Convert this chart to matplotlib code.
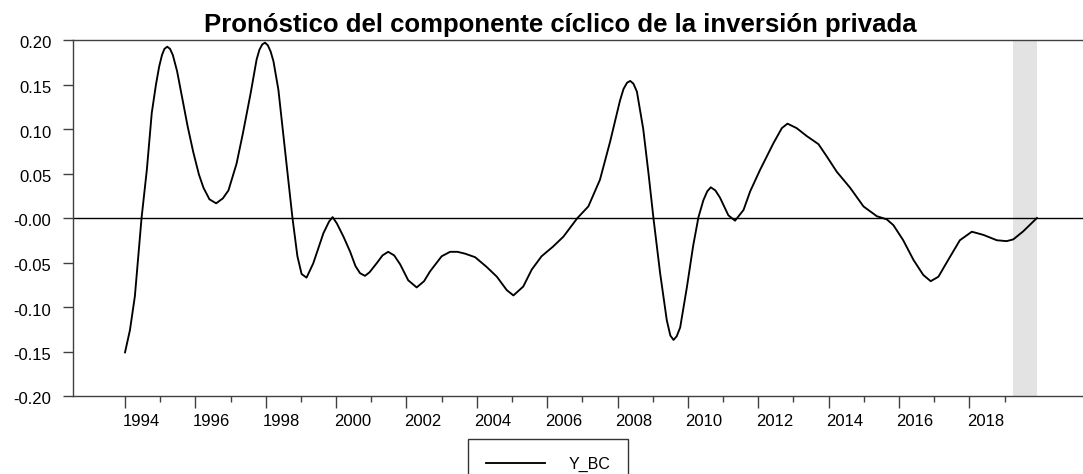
import matplotlib
matplotlib.use("Agg")
import matplotlib.pyplot as plt
import matplotlib.transforms as mtransforms

plt.rcParams['font.family'] = ['Liberation Sans', 'DejaVu Sans']

# Decimal-year positions of readings and the cyclical component values
dates = [1994.00, 1994.14, 1994.28, 1994.47, 1994.62, 1994.76, 1994.88, 1994.97, 1995.05, 1995.12,
         1995.20, 1995.28, 1995.36, 1995.48, 1995.61, 1995.78, 1995.94, 1996.10, 1996.23, 1996.40,
         1996.59, 1996.78, 1996.94, 1997.17, 1997.35, 1997.57, 1997.74, 1997.82, 1997.90, 1997.98,
         1998.06, 1998.14, 1998.22, 1998.36, 1998.50, 1998.64, 1998.76, 1998.90, 1999.02, 1999.16,
         1999.35, 1999.64, 1999.80, 1999.90, 2000.02, 2000.21, 2000.40, 2000.55, 2000.68, 2000.82,
         2000.95, 2001.15, 2001.32, 2001.48, 2001.65, 2001.82, 2002.05, 2002.29, 2002.50, 2002.67,
         2003.00, 2003.24, 2003.45, 2003.66, 2003.95, 2004.28, 2004.57, 2004.85, 2005.04, 2005.32,
         2005.56, 2005.84, 2006.17, 2006.46, 2006.86, 2007.17, 2007.50, 2007.79, 2008.07, 2008.17,
         2008.27, 2008.36, 2008.45, 2008.55, 2008.73, 2008.88, 2009.02, 2009.21, 2009.40, 2009.50,
         2009.59, 2009.68, 2009.78, 2009.97, 2010.15, 2010.30, 2010.44, 2010.55, 2010.65, 2010.78,
         2010.91, 2011.15, 2011.34, 2011.58, 2011.77, 2012.05, 2012.43, 2012.67, 2012.83, 2013.09,
         2013.38, 2013.71, 2013.95, 2014.23, 2014.61, 2014.99, 2015.37, 2015.65, 2015.84, 2016.12,
         2016.41, 2016.69, 2016.90, 2017.12, 2017.40, 2017.73, 2018.07, 2018.40, 2018.78, 2019.06,
         2019.25, 2019.53, 2019.92]
y_bc = [-0.151, -0.126, -0.088, 0.000, 0.054, 0.118, 0.150, 0.170, 0.183, 0.190,
        0.1925, 0.190, 0.183, 0.165, 0.138, 0.103, 0.074, 0.049, 0.034, 0.021,
        0.0165, 0.022, 0.031, 0.061, 0.095, 0.140, 0.178, 0.189, 0.195, 0.197,
        0.194, 0.187, 0.176, 0.144, 0.093, 0.043, 0.000, -0.043, -0.063, -0.067,
        -0.051, -0.017, -0.004, 0.001, -0.006, -0.021, -0.038, -0.054, -0.062, -0.065,
        -0.061, -0.051, -0.042, -0.038, -0.042, -0.052, -0.070, -0.078, -0.071, -0.060,
        -0.043, -0.038, -0.038, -0.040, -0.044, -0.055, -0.066, -0.081, -0.087, -0.077,
        -0.058, -0.043, -0.032, -0.021, 0.000, 0.013, 0.043, 0.086, 0.132, 0.145,
        0.152, 0.154, 0.151, 0.142, 0.100, 0.050, 0.000, -0.062, -0.115, -0.132,
        -0.137, -0.133, -0.123, -0.078, -0.031, 0.001, 0.020, 0.030, 0.0345, 0.031,
        0.023, 0.003, -0.003, 0.009, 0.030, 0.054, 0.084, 0.101, 0.106, 0.101,
        0.092, 0.083, 0.069, 0.052, 0.034, 0.013, 0.002, -0.0015, -0.008, -0.025,
        -0.047, -0.064, -0.071, -0.066, -0.047, -0.025, -0.0154, -0.019, -0.025, -0.026,
        -0.024, -0.015, 0.000]

series_name = "Y_BC"
title = "Pronóstico del componente cíclico de la inversión privada"
forecast_start, forecast_end = 2019.25, 2019.92
major_years = list(range(1994, 2019, 2))
minor_years = list(range(1995, 2020, 2))
ytick_values = [0.20, 0.15, 0.10, 0.05, 0.0, -0.05, -0.10, -0.15, -0.20]
ytick_labels = ["0.20", "0.15", "0.10", "0.05", "-0.00", "-0.05", "-0.10", "-0.15", "-0.20"]

W, H = 1083, 474
fig = plt.figure(figsize=(W / 100, H / 100), dpi=100)
ax = fig.add_axes([72.7 / W, 1 - 396 / H, 1 - 72.7 / W, (396 - 40) / H])

ax.axvspan(forecast_start, forecast_end, color='#e3e3e3', lw=0, zorder=0)
ax.axhline(0, color='black', lw=1.0, zorder=1)
line, = ax.plot(dates, y_bc, color='black', lw=1.35, zorder=3, label=series_name,
                solid_joinstyle='round')

ax.set_xlim(1992.513, 2021.23)
ax.set_ylim(-0.20, 0.20)

spine_c = '#404040'
for s in ['left', 'bottom', 'top']:
    ax.spines[s].set_color(spine_c)
    ax.spines[s].set_linewidth(1.0)
ax.spines['right'].set_visible(False)

ax.set_yticks(ytick_values)
ax.set_yticklabels(ytick_labels)
ax.tick_params(axis='y', length=7, width=1.0, color=spine_c, pad=8.3, labelsize=12)
off = mtransforms.ScaledTranslation(0, -2.5 / 100, fig.dpi_scale_trans)
for lab in ax.get_yticklabels():
    lab.set_transform(lab.get_transform() + off)

ax.set_xticks(major_years)
ax.set_xticklabels([])
ax.set_xticks(minor_years, minor=True)
ax.tick_params(axis='x', which='major', length=8.6, width=1.0, color=spine_c)
ax.tick_params(axis='x', which='minor', length=4.3, width=1.0, color=spine_c)
for yr in major_years:
    ax.annotate(str(yr), xy=(yr + 5.5 / 12, 0), xycoords=('data', 'axes fraction'),
                xytext=(0, -13.3), textcoords='offset points', ha='center', va='top',
                fontsize=12)

fig.text(560 / W, 1 - 31.7 / H, title, fontsize=18.5, fontweight='bold',
         ha='center', va='baseline')

leg = fig.legend(handles=[line], loc='upper center', bbox_to_anchor=(548 / W, 1 - 439 / H),
                 frameon=True, fancybox=False, edgecolor='black', fontsize=11.5,
                 handlelength=3.7, handletextpad=1.45, borderpad=1.1, borderaxespad=0)
leg.get_frame().set_linewidth(1.0)

fig.savefig('out.png', dpi=100)
